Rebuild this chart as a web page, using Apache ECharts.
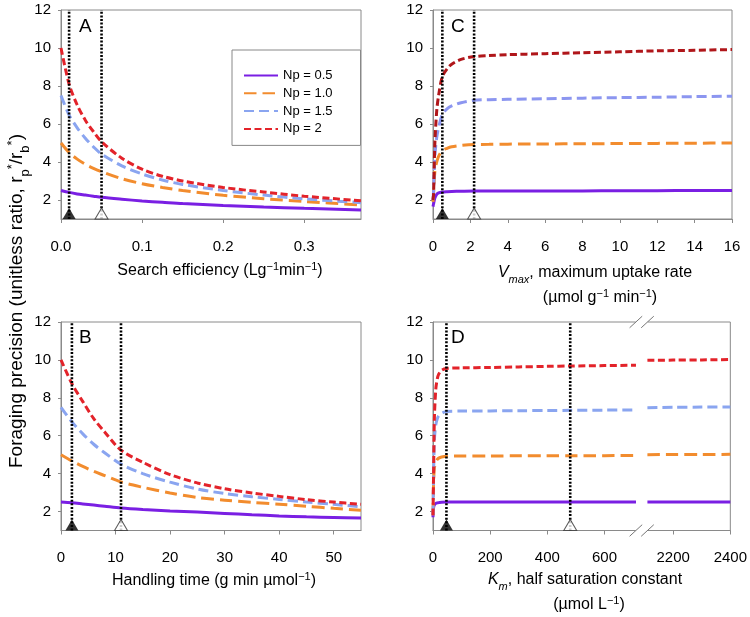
<!DOCTYPE html>
<html><head><meta charset="utf-8">
<script src="https://cdn.jsdelivr.net/npm/echarts@6/dist/echarts.min.js"></script>
<style>html,body{margin:0;padding:0;background:#fff}#c{width:750px;height:617px}</style>
</head><body><div id="c"></div>
<script>
// ---------------- DATA ----------------
const seriesNames = ['Np = 0.5', 'Np = 1.0', 'Np = 1.5', 'Np = 2'];

// Panel A: search efficiency
const aX      = [0, 0.01, 0.02, 0.03, 0.04, 0.05, 0.075, 0.1, 0.125, 0.15, 0.2, 0.25, 0.3, 0.37];
const aNp05   = [2.5, 2.4, 2.32, 2.26, 2.2, 2.14, 2.04, 1.95, 1.88, 1.81, 1.71, 1.63, 1.56, 1.47];
const aNp10   = [5.0, 4.5, 4.15, 3.88, 3.67, 3.49, 3.12, 2.86, 2.66, 2.5, 2.25, 2.07, 1.92, 1.74];
const aNp15   = [7.5, 6.47, 5.8, 5.25, 4.8, 4.42, 3.8, 3.37, 3.05, 2.82, 2.5, 2.26, 2.06, 1.86];
const aNp20   = [10, 8.1, 7.0, 6.2, 5.6, 5.07, 4.2, 3.62, 3.25, 3.0, 2.66, 2.42, 2.2, 1.96];
const aMarks  = [0.01, 0.05];
const aTicks  = [0, 0.1, 0.2, 0.3];

// Panel B: handling time
const bX      = [0, 2, 4, 6, 8, 11, 15, 20, 25, 30, 35, 40, 45, 50, 55];
const bNp05   = [2.5, 2.46, 2.4, 2.34, 2.28, 2.19, 2.11, 2.03, 1.97, 1.9, 1.83, 1.77, 1.72, 1.69, 1.66];
const bNp10   = [5.0, 4.67, 4.38, 4.12, 3.9, 3.56, 3.28, 2.98, 2.74, 2.6, 2.48, 2.39, 2.28, 2.17, 2.07];
const bNp15   = [7.5, 6.73, 6.1, 5.55, 5.1, 4.5, 4.0, 3.55, 3.19, 2.95, 2.78, 2.64, 2.5, 2.38, 2.25];
const bNp20   = [10, 8.75, 7.8, 6.9, 6.2, 5.24, 4.6, 3.95, 3.51, 3.2, 2.98, 2.8, 2.63, 2.5, 2.38];
const bMarks  = [2, 11];
const bTicks  = [0, 10, 20, 30, 40, 50];

// Panel C: Vmax
const cX      = [0, 0.03, 0.1, 0.2, 0.3, 0.5, 0.75, 1.0, 1.5, 2.2, 3, 4, 6, 8, 10, 12, 14, 16];
const cNp05   = [1.65, 1.8, 2.1, 2.3, 2.37, 2.42, 2.44, 2.45, 2.46, 2.47, 2.47, 2.47, 2.48, 2.48, 2.49, 2.49, 2.5, 2.5];
const cNp10   = [1.9, 2.3, 3.5, 4.0, 4.3, 4.6, 4.72, 4.8, 4.87, 4.92, 4.93, 4.94, 4.95, 4.96, 4.97, 4.98, 4.99, 5.0];
const cNp15   = [2.0, 2.5, 4.3, 5.3, 5.8, 6.5, 6.8, 6.95, 7.12, 7.25, 7.28, 7.3, 7.33, 7.36, 7.39, 7.41, 7.44, 7.46];
const cNp20   = [2.0, 2.3, 5.0, 6.7, 7.5, 8.5, 8.9, 9.15, 9.4, 9.55, 9.6, 9.65, 9.7, 9.75, 9.8, 9.85, 9.88, 9.92];
const cMarks  = [0.5, 2.2];

// Panel D: Km (broken axis between 710 and 2110)
const dX      = [0, 2, 5, 10, 15, 20, 30, 47, 100, 200, 300, 400, 480, 600, 710, 2110, 2200, 2300, 2400];
const dNp05   = [1.7, 2.2, 2.35, 2.43, 2.46, 2.47, 2.49, 2.5, 2.5, 2.5, 2.5, 2.5, 2.5, 2.5, 2.5, 2.51, 2.51, 2.51, 2.51];
const dNp10   = [1.8, 3.5, 4.3, 4.6, 4.75, 4.82, 4.88, 4.92, 4.93, 4.93, 4.94, 4.94, 4.95, 4.95, 4.96, 5.0, 5.01, 5.01, 5.02];
const dNp15   = [1.8, 3.8, 5.8, 6.6, 6.9, 7.05, 7.18, 7.28, 7.3, 7.31, 7.32, 7.33, 7.34, 7.35, 7.36, 7.48, 7.5, 7.51, 7.52];
const dNp20   = [1.8, 4.0, 7.0, 8.5, 9.0, 9.25, 9.45, 9.55, 9.58, 9.6, 9.63, 9.66, 9.68, 9.7, 9.72, 9.98, 9.99, 10.0, 10.02];
const dMarks  = [47, 480];
const dTicks  = [0, 200, 400, 600, 2200, 2400];
const dBreak  = [710, 2110];

const yTicks  = [2, 4, 6, 8, 10, 12];

// ---------------- STYLE ----------------
const KM_SHIFT = 1360;            // axis compression for the broken Km axis
const kmToAxis = v => v > dBreak[0] ? v - KM_SHIFT : v;
const breakMid = (dBreak[0] + kmToAxis(dBreak[1])) / 2;
const FONT = 'Liberation Sans, Arial, sans-serif';
const AX = '#8a8a8a';
const colsMain = ['#7A1FE3', '#F28C2E', '#8AA5F0', '#E3232A'];
const colsC    = ['#7A1FE3', '#F28C2E', '#8C96F0', '#B0161A'];
const dashes   = ['solid', [12.5, 6], [10, 5], [7, 3.5]];

function curves(gi, xs, ysList, cols, gapAt) {
  return ysList.map((ys, k) => {
    const data = [];
    xs.forEach((x, i) => {
      if (gapAt != null && i > 0 && xs[i - 1] <= gapAt && x > gapAt) data.push([breakMid, '-']);
      data.push([gapAt != null ? kmToAxis(x) : x, ys[i]]);
    });
    return {
      name: seriesNames[k], type: 'line', xAxisIndex: gi, yAxisIndex: gi,
      data, symbol: 'none', smooth: 0.3, z: 2,
      lineStyle: { color: cols[k], width: 3, type: dashes[k], cap: 'butt' },
      itemStyle: { color: cols[k] }, emphasis: { disabled: true }, animation: false
    };
  });
}
function markers(gi, marks, tf) {
  const out = [];
  marks.forEach((m, j) => {
    const x = tf ? tf(m) : m;
    out.push({
      type: 'line', xAxisIndex: gi, yAxisIndex: gi, data: [[x, 1], [x, 12]],
      symbol: 'none', z: 5, animation: false, emphasis: { disabled: true },
      lineStyle: { color: '#000', width: 2.6, type: [2, 1.6], cap: 'butt' }
    });
    out.push({
      type: 'scatter', xAxisIndex: gi, yAxisIndex: gi, data: [[x, 1]],
      symbol: 'triangle', symbolSize: [13, 11], symbolOffset: [0, -5.5], z: 6,
      animation: false, emphasis: { disabled: true },
      itemStyle: j === 0 ? { color: '#000' } : { color: '#fff', borderColor: '#333', borderWidth: 1 }
    });
  });
  return out;
}
function xAxis(gi, min, max, ticks, fmt, extra) {
  return Object.assign({
    type: 'value', gridIndex: gi, min, max,
    axisLine: { show: true, lineStyle: { color: AX, width: 1 } },
    axisTick: { show: true, length: 4, lineStyle: { color: AX }, customValues: ticks },
    axisLabel: { customValues: ticks, formatter: fmt, fontSize: 15, color: '#000', fontFamily: FONT, margin: 20 },
    splitLine: { show: false }
  }, extra || {});
}
function yAxis(gi) {
  return {
    type: 'value', gridIndex: gi, min: 1, max: 12,
    axisLine: { show: true, lineStyle: { color: AX, width: 1 } },
    axisTick: { show: true, length: 3, lineStyle: { color: AX }, customValues: yTicks },
    axisLabel: { customValues: yTicks, fontSize: 15, color: '#000', fontFamily: FONT, margin: 10 },
    splitLine: { show: false }
  };
}

const chart = echarts.init(document.getElementById('c'), null, { renderer: 'canvas' });
const grids = [
  { left: 61, top: 10, width: 300, height: 209 },
  { left: 61, top: 322, width: 300, height: 208.5 },
  { left: 433, top: 10, width: 299, height: 209 },
  { left: 433, top: 322, width: 299, height: 208.5 }
].map(g => Object.assign(g, { show: true, borderColor: AX, borderWidth: 1, backgroundColor: 'transparent', containLabel: false }));

const sup = { fontSize: 11, fontFamily: FONT, color: '#000', verticalAlign: 'top', lineHeight: 19 };
const nrm = { fontSize: 16, fontFamily: FONT, color: '#000', lineHeight: 19 };
const ital = { fontSize: 16, fontFamily: FONT, color: '#000', fontStyle: 'italic', lineHeight: 19 };
const isub = { fontSize: 11, fontFamily: FONT, color: '#000', fontStyle: 'italic', verticalAlign: 'bottom', lineHeight: 19, padding: [0, 0, -3, 0] };
const richX = { n: nrm, s: sup, i: ital, b: isub };

function label(x, y, text) {
  return { type: 'text', x, y, z: 50, style: { text, rich: richX, align: 'center', verticalAlign: 'middle', fill: '#000', font: '16px ' + FONT } };
}
function letter(x, y, t) {
  return { type: 'text', x, y, z: 50, style: { text: t, fill: '#000', font: '19px ' + FONT } };
}

const option = {
  animation: false,
  grid: grids,
  xAxis: [
    xAxis(0, 0, 0.37, aTicks, v => v.toFixed(1)),
    xAxis(1, 0, 55, bTicks, v => String(v)),
    xAxis(2, 0, 16, undefined, v => String(v), { interval: 2, axisTick: { show: true, length: 4, lineStyle: { color: AX } }, axisLabel: { fontSize: 15, color: '#000', fontFamily: FONT, margin: 20 } }),
    xAxis(3, 0, 2400 - KM_SHIFT, dTicks.map(kmToAxis), v => String(v > breakMid ? v + KM_SHIFT : v))
  ],
  yAxis: [yAxis(0), yAxis(1), yAxis(2), yAxis(3)],
  legend: {
    data: seriesNames, orient: 'vertical', left: 232, top: 50,
    borderColor: '#888', borderWidth: 1, padding: [19, 28, 10, 11],
    itemWidth: 34, itemHeight: 10, itemGap: 4.8, selectedMode: false,
    itemStyle: { opacity: 0 },
    textStyle: { fontSize: 13, color: '#000', fontFamily: FONT }
  },
  series: [
    ...curves(0, aX, [aNp05, aNp10, aNp15, aNp20], colsMain),
    ...curves(1, bX, [bNp05, bNp10, bNp15, bNp20], colsMain),
    ...curves(2, cX, [cNp05, cNp10, cNp15, cNp20], colsC),
    ...curves(3, dX, [dNp05, dNp10, dNp15, dNp20], colsMain, dBreak[0]),
    ...markers(0, aMarks), ...markers(1, bMarks), ...markers(2, cMarks), ...markers(3, dMarks, kmToAxis)
  ]
};
chart.setOption(option);

// ---- decorations: titles, panel letters, axis-break marks ----
const g = [];
g.push(label(220, 271, '{n|Search efficiency (Lg}{s|−1}{n|min}{s|−1}{n|)}'));
g.push(label(214, 581, '{n|Handling time (g min µmol}{s|−1}{n|)}'));
g.push(label(595, 273, '{i|V}{b|max}{n|, maximum uptake rate}'));
g.push(label(600, 298, '{n|(µmol g}{s|−1}{n| min}{s|−1}{n|)}'));
g.push(label(585, 580, '{i|K}{b|m}{n|, half saturation constant}'));
g.push(label(589, 605, '{n|(µmol L}{s|−1}{n|)}'));
g.push(letter(79, 17, 'A'));
g.push(letter(79, 328, 'B'));
g.push(letter(451, 17, 'C'));
g.push(letter(451, 328, 'D'));
g.push({
  type: 'text', x: 17, y: 301, rotation: Math.PI / 2, z: 50,
  style: {
    text: '{n|Foraging precision (unitless ratio, r}{b|p}{s|*}{n|/r}{b|b}{s|*}{n|)}',
    rich: {
      n: { fontSize: 19, fontFamily: FONT, color: '#000', lineHeight: 23 },
      s: { fontSize: 13, fontFamily: FONT, color: '#000', verticalAlign: 'top', lineHeight: 23 },
      b: { fontSize: 13, fontFamily: FONT, color: '#000', verticalAlign: 'bottom', lineHeight: 23, padding: [0, 0, -3, 0] }
    },
    align: 'center', verticalAlign: 'middle'
  }
});
[12, 1].forEach(yv => {
  const p = chart.convertToPixel({ gridIndex: 3 }, [breakMid, yv]);
  g.push({ type: 'rect', z: 60, shape: { x: p[0] - 6, y: p[1] - 2, width: 12, height: 4 }, style: { fill: '#fff' } });
  [-5.8, 5.8].forEach(o => {
    g.push({ type: 'line', z: 61, shape: { x1: p[0] + o - 6.3, y1: p[1] + 5.8, x2: p[0] + o + 6.3, y2: p[1] - 5.8 }, style: { stroke: '#777', lineWidth: 1 } });
  });
});
chart.setOption({ graphic: g });
</script>
</body></html>
